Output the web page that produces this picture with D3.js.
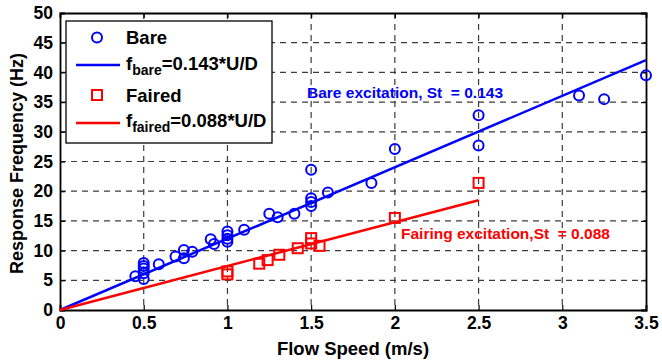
<!DOCTYPE html>
<html>
<head>
<meta charset="utf-8">
<script src="https://cdn.jsdelivr.net/npm/d3@7"></script>
<style>
  body { margin: 0; background: #fff; }
  svg text { font-family: "Liberation Sans", Arial, sans-serif; font-weight: bold; }
</style>
</head>
<body>
<svg id="chart" width="662" height="362"></svg>
<script>
// measured data (flow speed m/s, response frequency Hz)
const bareSpeed = [0.45, 0.5, 0.5, 0.5, 0.5, 0.5, 0.59, 0.69, 0.74, 0.74, 0.79, 0.9, 0.92,
  1.0, 1.0, 1.0, 1.0, 1.1, 1.25, 1.3, 1.4, 1.5, 1.5, 1.5, 1.5, 1.6, 1.86, 2.0, 2.5, 2.5, 3.1, 3.25, 3.5];
const bareFreq = [5.7, 7.9, 7.4, 7.0, 6.2, 5.2, 7.7, 9.0, 10.1, 8.7, 9.8, 11.9, 11.1,
  13.2, 12.6, 12.0, 11.5, 13.5, 16.2, 15.6, 16.2, 23.6, 18.8, 18.2, 17.5, 19.8, 21.4, 27.1, 32.8, 27.7, 36.1, 35.5, 39.5];
const fairedSpeed = [1.0, 1.0, 1.19, 1.24, 1.31, 1.42, 1.5, 1.5, 1.55, 2.0, 2.5];
const fairedFreq = [6.0, 6.5, 7.8, 8.4, 9.3, 10.4, 12.1, 11.2, 10.8, 15.5, 21.4];
const diameter = 0.0119;
const stBare = 0.143, stFaired = 0.088;
const bareFit = [0, 3.5];
const fairedFit = [0, 2.5];
const xTicks = [0, 0.5, 1, 1.5, 2, 2.5, 3, 3.5];
const yTicks = [0, 5, 10, 15, 20, 25, 30, 35, 40, 45, 50];

const svg = d3.select("#chart");
const pLeft = 60, pRight = 646, pTop = 13, pBottom = 310;
const x = d3.scaleLinear().domain([0, 3.5]).range([pLeft, pRight]);
const y = d3.scaleLinear().domain([0, 50]).range([pBottom, pTop]);

// grid
const grid = svg.append("g").attr("stroke", "#3c3c3c").attr("stroke-width", 1.2).attr("stroke-dasharray", "6,5");
grid.selectAll(".gx").data(xTicks.slice(1, -1)).enter().append("line")
  .attr("x1", d => x(d)).attr("x2", d => x(d)).attr("y1", pTop).attr("y2", pBottom);
grid.selectAll(".gy").data(yTicks.slice(1, -1)).enter().append("line")
  .attr("y1", d => y(d)).attr("y2", d => y(d)).attr("x1", pLeft).attr("x2", pRight);

// axes (ticks inward, box)
svg.append("g").attr("transform", `translate(0,${pBottom})`)
  .call(d3.axisBottom(x).tickValues(xTicks).tickSize(-5).tickPadding(7).tickFormat(d3.format("")));
svg.append("g").attr("transform", `translate(${pLeft},0)`)
  .call(d3.axisLeft(y).tickValues(yTicks).tickSize(-5).tickPadding(7));
svg.append("g").attr("transform", `translate(0,${pTop})`)
  .call(d3.axisTop(x).tickValues(xTicks).tickSize(-5).tickFormat(""));
svg.append("g").attr("transform", `translate(${pRight},0)`)
  .call(d3.axisRight(y).tickValues(yTicks).tickSize(-5).tickFormat(""));
svg.selectAll(".domain").attr("stroke", "#000").attr("stroke-width", 1.8);
svg.selectAll(".tick line").attr("stroke", "#000").attr("stroke-width", 1.2);
svg.selectAll(".tick text").attr("font-size", 17.5).attr("fill", "#000")
  .attr("font-family", "'Liberation Sans', Arial, sans-serif").attr("font-weight", "bold");

// fit lines
const line = d3.line().x(d => x(d[0])).y(d => y(d[1]));
svg.append("path").datum(bareFit.map(u => [u, stBare * u / diameter]))
  .attr("d", line).attr("stroke", "#0000ff").attr("stroke-width", 2.5).attr("fill", "none");
svg.append("path").datum(fairedFit.map(u => [u, stFaired * u / diameter]))
  .attr("d", line).attr("stroke", "#ff0000").attr("stroke-width", 2.5).attr("fill", "none");

// markers
svg.append("g").selectAll("circle").data(bareSpeed).enter().append("circle")
  .attr("cx", d => x(d)).attr("cy", (d, i) => y(bareFreq[i])).attr("r", 5)
  .attr("fill", "none").attr("stroke", "#0000ff").attr("stroke-width", 2);
svg.append("g").selectAll("rect").data(fairedSpeed).enter().append("rect")
  .attr("x", d => x(d) - 5).attr("y", (d, i) => y(fairedFreq[i]) - 5)
  .attr("width", 10).attr("height", 10)
  .attr("fill", "none").attr("stroke", "#ff0000").attr("stroke-width", 2);

// annotations
svg.append("text").attr("x", 307).attr("y", 98).attr("font-size", 15.5).attr("fill", "#0000ff")
  .attr("xml:space", "preserve").text("Bare excitation, St  = 0.143");
svg.append("text").attr("x", 401).attr("y", 239).attr("font-size", 15.5).attr("fill", "#ff0000")
  .attr("xml:space", "preserve").text("Fairing excitation,St  = 0.088");

// legend
const lg = svg.append("g");
lg.append("rect").attr("x", 66).attr("y", 21).attr("width", 206).attr("height", 122)
  .attr("fill", "#fff").attr("stroke", "#000").attr("stroke-width", 1.3);
lg.append("circle").attr("cx", 97).attr("cy", 37.5).attr("r", 5)
  .attr("fill", "none").attr("stroke", "#0000ff").attr("stroke-width", 2);
lg.append("text").attr("x", 126).attr("y", 43.5).attr("font-size", 18.5).text("Bare");
lg.append("line").attr("x1", 76).attr("x2", 120).attr("y1", 65).attr("y2", 65)
  .attr("stroke", "#0000ff").attr("stroke-width", 2.5);
const t1 = lg.append("text").attr("x", 126).attr("y", 70).attr("font-size", 18.5);
t1.append("tspan").text("f");
t1.append("tspan").attr("dy", 5).attr("font-size", 14).text("bare");
t1.append("tspan").attr("dy", -5).text("=0.143*U/D");
lg.append("rect").attr("x", 92).attr("y", 90).attr("width", 10).attr("height", 10)
  .attr("fill", "none").attr("stroke", "#ff0000").attr("stroke-width", 2);
lg.append("text").attr("x", 126).attr("y", 101.5).attr("font-size", 18.5).text("Faired");
lg.append("line").attr("x1", 76).attr("x2", 120).attr("y1", 123).attr("y2", 123)
  .attr("stroke", "#ff0000").attr("stroke-width", 2.5);
const t2 = lg.append("text").attr("x", 126).attr("y", 127).attr("font-size", 18.5);
t2.append("tspan").text("f");
t2.append("tspan").attr("dy", 5).attr("font-size", 14).text("faired");
t2.append("tspan").attr("dy", -5).text("=0.088*U/D");

// axis labels
svg.append("text").attr("x", (pLeft + pRight) / 2).attr("y", 355).attr("text-anchor", "middle")
  .attr("font-size", 18.5).text("Flow Speed (m/s)");
svg.append("text").attr("transform", `translate(23,${(pTop + pBottom) / 2 + 2}) rotate(-90)`)
  .attr("text-anchor", "middle").attr("font-size", 18).text("Response Frequency (Hz)");
</script>
</body>
</html>
